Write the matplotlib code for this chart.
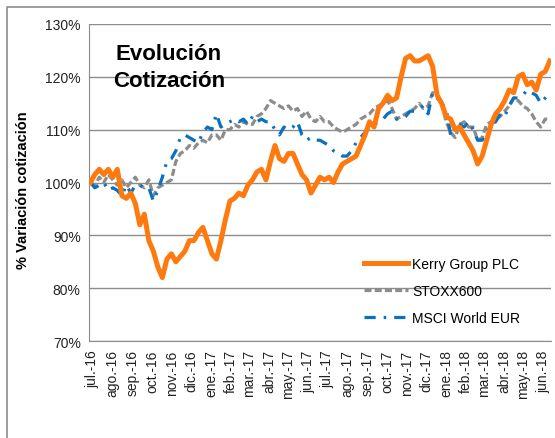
import pandas as pd
import matplotlib
matplotlib.use("Agg")
import matplotlib.pyplot as plt
from matplotlib.lines import Line2D
from matplotlib.ticker import FuncFormatter

plt.rcParams["font.family"] = ["Liberation Sans", "DejaVu Sans"]

# weekly closes, base 100
fechas = pd.date_range("2016-06-27", periods=103, freq="7D")

kerry = [100, 101.5, 102.5, 101.5, 102.5, 101, 102.5, 97.5, 97, 98,
         96, 92, 94, 89, 87, 84, 82, 85.5, 86.5, 85,
         86, 87, 89, 89, 90.5, 91.5, 89, 86.5, 85.5, 89,
         93, 96.5, 97, 98, 97.5, 99.5, 100.5, 102, 102.5, 100.5,
         104, 107, 104.5, 104, 105.5, 105.5, 103.5, 101.5, 100.5, 98,
         99.5, 101, 100.5, 101, 100, 102, 103.5, 104, 104.5, 105,
         107, 109, 111.5, 110.5, 114, 115, 116.5, 115.5, 116, 120,
         123.5, 124, 123, 123, 123.5, 124, 122, 116.5, 115, 112.5,
         112, 110, 110.5, 109, 107.5, 106, 103.5, 105, 108, 111,
         113, 114, 115.5, 117.5, 117, 120, 120.5, 118.5, 119, 117.5,
         120.5, 121, 123]

stoxx = [100, 99.5, 101, 100, 101.5, 100.5, 99.5, 100.5, 99, 100,
         101, 99.5, 99, 100.5, 97.5, 99, 99.5, 100, 100.5, 104,
         105.5, 106, 107, 106.5, 107.5, 108, 107.5, 109, 109, 108,
         110, 110, 111, 110.5, 111.5, 111, 111, 112.5, 113, 114,
         115.5, 115, 114.5, 114, 114.5, 113.5, 114, 112.5, 113.5, 112,
         111.5, 112.5, 111.5, 111.5, 110.5, 110, 109.5, 110, 110.5, 111,
         112, 112.5, 113, 114, 114.5, 115, 115.5, 114, 112, 112.5,
         113, 113.5, 114, 115, 114, 114.5, 117, 116.5, 115, 111.5,
         109.5, 108.5, 111, 111.5, 110.5, 110.5, 108, 108.5, 111, 111.5,
         112, 112.5, 113.5, 114.5, 116, 115.5, 114.5, 114, 113, 111.5,
         110.5, 112, 112]

msci = [100, 99, 99.5, 100, 98.5, 99, 98.5, 97.5, 99.5, 98,
        99.5, 99.5, 99, 99, 96.5, 98.5, 101, 104, 104.5, 106,
        108.5, 109, 108.5, 108, 107.5, 109.5, 110.5, 110, 113, 110.5,
        111, 111.5, 112, 111.5, 112, 111, 112.5, 111.5, 112, 111.5,
        111.5, 110, 109, 110.5, 110, 110.5, 111.5, 109, 108, 108.5,
        108, 108, 107.5, 107, 106, 105.5, 105, 105, 106, 107.5,
        108.5, 109.5, 110.5, 111, 111.5, 112, 113, 113.5, 112, 112,
        112.5, 113.5, 113.5, 114, 114.5, 113, 117, 116, 115, 114,
        109, 111.5, 111, 110.5, 111.5, 110, 108, 108, 109.5, 111,
        111.5, 113, 112.5, 114.5, 116, 116, 116.5, 117.5, 117, 116.5,
        115, 116, 117]

meses = ["jul.-16", "ago.-16", "sep.-16", "oct.-16", "nov.-16", "dic.-16",
         "ene.-17", "feb.-17", "mar.-17", "abr.-17", "may.-17", "jun.-17",
         "jul.-17", "ago.-17", "sep.-17", "oct.-17", "nov.-17", "dic.-17",
         "ene.-18", "feb.-18", "mar.-18", "abr.-18", "may.-18", "jun.-18"]

fig = plt.figure(figsize=(5.55, 4.39), dpi=100)
ax = fig.add_axes([89 / 555, 1 - 342 / 439, (551 - 89) / 555, (342 - 25) / 439])

ax.plot(fechas, kerry, color="#FF7A0E", lw=3.6, label="Kerry Group PLC", zorder=3)
ax.plot(fechas, stoxx, color="#8C8C8C", lw=2.3, dashes=(2.2, 1.0), label="STOXX600", zorder=2)
ax.plot(fechas, msci, color="#0A70C2", lw=2.3, dashes=(3.5, 2.5, 0.8, 2.5),
        label="MSCI World EUR", zorder=2)

ax.set_ylim(70, 130)
ax.set_yticks(range(70, 131, 10))
ax.yaxis.set_major_formatter(FuncFormatter(lambda v, p: f"{v:.0f}%"))
ax.set_xlim(pd.Timestamp("2016-06-25"), pd.Timestamp("2018-06-13"))
ax.set_xticks(pd.date_range("2016-07-01", periods=24, freq="MS"))
ax.set_xticklabels(meses, rotation=90)
ax.tick_params(axis="both", length=0, labelsize=10, colors="#222222", pad=6)

ax.grid(axis="y", color="#8C8C8C", lw=1)
ax.set_axisbelow(True)
for s in ["top", "right"]:
    ax.spines[s].set_visible(False)
ax.spines["left"].set_color("#8C8C8C")
ax.spines["bottom"].set_color("#8C8C8C")

ax.set_ylabel("% Variación cotización", fontsize=10.5, fontweight="bold")
ax.yaxis.set_label_coords(-(89 - 30) / 462, (342 - 190) / 317)

fig.text(169 / 555, 1 - 44 / 439, "Evolución\nCotización", fontsize=16,
         fontweight="bold", ha="center", va="top", linespacing=1.35)

ax.legend(loc="upper left", bbox_to_anchor=((358 - 89) / 462, (342 - 252) / 317),
          frameon=False, fontsize=10, handlelength=3.2, handletextpad=0.3,
          labelspacing=0.95, borderaxespad=0)

# outer chart border
fig.add_artist(Line2D([7 / 555, 7 / 555, 1], [0, 1 - 8 / 439, 1 - 8 / 439],
                      color="#8C8C8C", lw=1.2, transform=fig.transFigure))

fig.savefig("out.png", dpi=100)
